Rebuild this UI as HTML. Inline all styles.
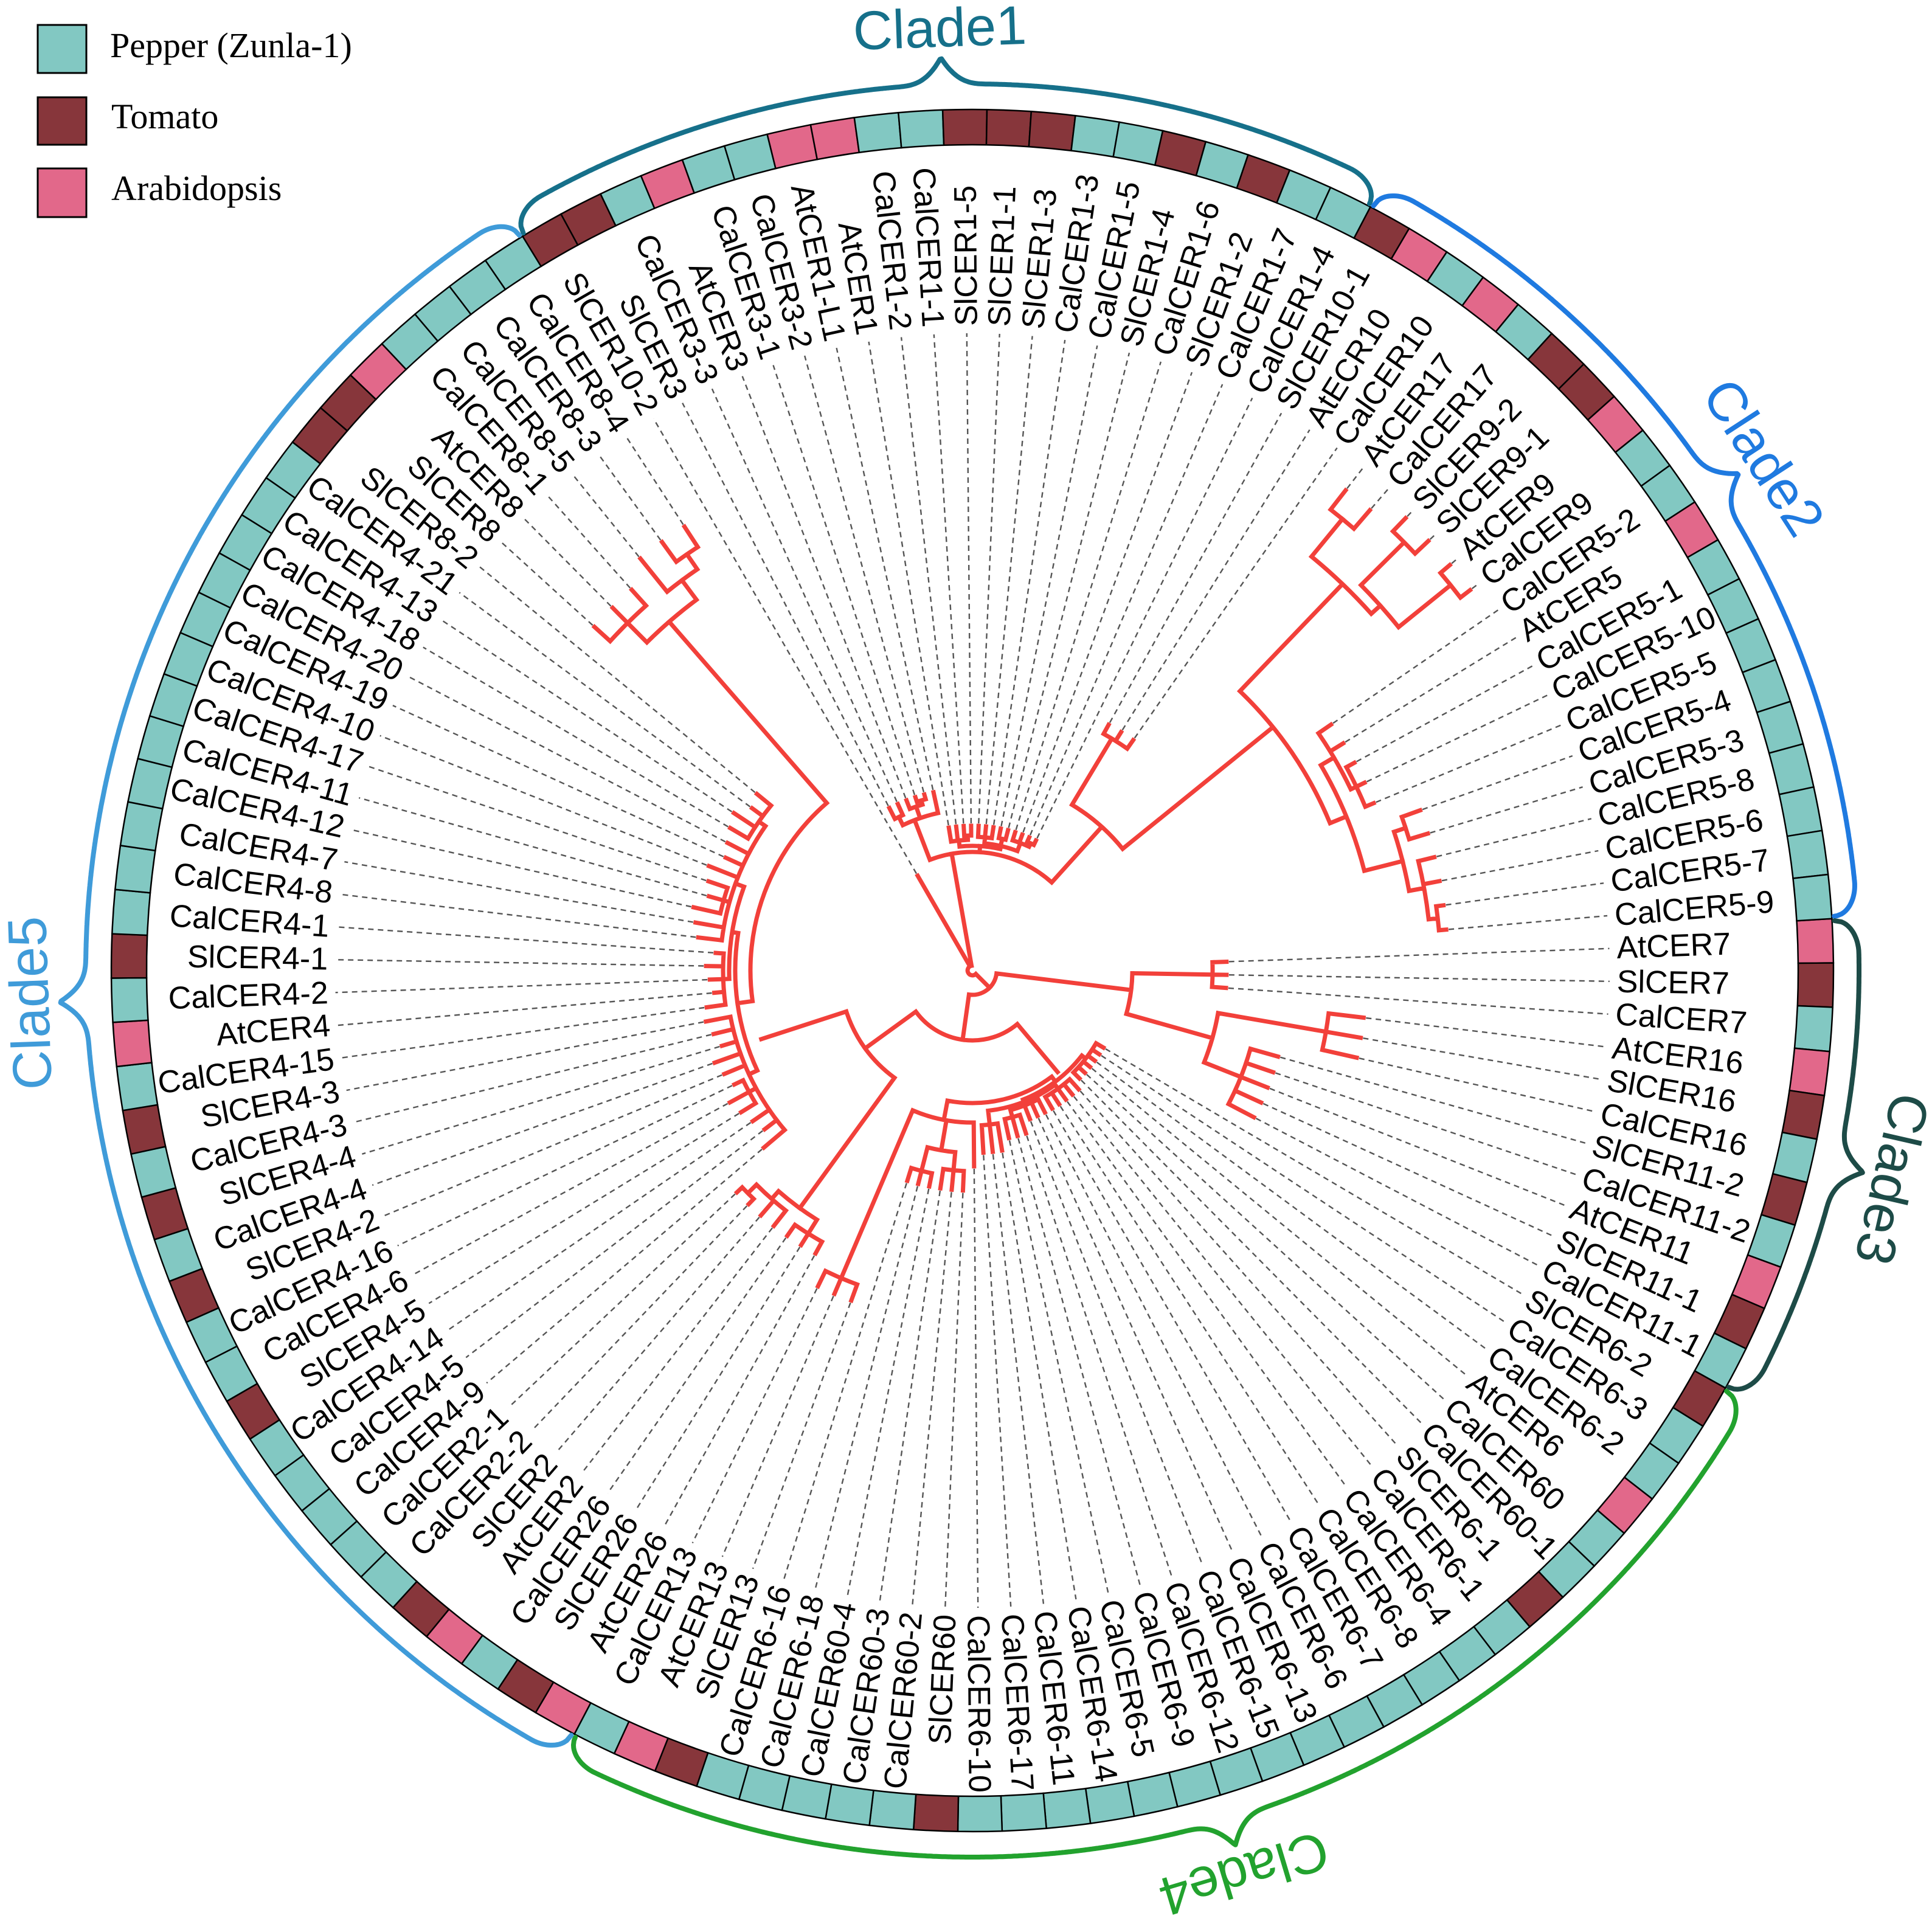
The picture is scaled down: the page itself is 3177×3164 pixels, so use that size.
<!DOCTYPE html>
<html><head><meta charset="utf-8">
<style>
html,body{margin:0;padding:0;background:#fff;}
svg{display:block;}
.lbl{font-family:"Liberation Sans",Arial,sans-serif;font-size:52px;fill:#000;}
.clade{font-family:"Liberation Sans",Arial,sans-serif;font-size:90px;}
.leg{font-family:"Liberation Serif","Times New Roman",serif;font-size:58px;fill:#000;}
</style></head>
<body>
<svg id="s" xmlns="http://www.w3.org/2000/svg" width="3177" height="3164" viewBox="0 0 3177 3164">
<rect x="0" y="0" width="3177" height="3164" fill="#fff"/>
<rect x="62" y="41" width="80" height="79" fill="#82c8c2" stroke="#000" stroke-width="3"/>
<rect x="62" y="160" width="80" height="78" fill="#87363b" stroke="#000" stroke-width="3"/>
<rect x="62" y="277" width="80" height="80" fill="#e2688a" stroke="#000" stroke-width="3"/>
<text class="leg" x="181" y="94">Pepper (Zunla-1)</text>
<text class="leg" x="183" y="211">Tomato</text>
<text class="leg" x="183" y="329">Arabidopsis</text>
<g id="ring"></g>
<g id="dash"></g>
<g id="tree"></g>
<g id="labels"></g>
<g id="br"></g>
</svg>
<script>
(function(){
var names=["AtCER7","SlCER7","CalCER7","AtCER16","SlCER16","CalCER16","SlCER11-2","CalCER11-2","AtCER11","SlCER11-1","CalCER11-1",
"SlCER6-2","CalCER6-3","CalCER6-2","AtCER6","CalCER60","CalCER60-1","SlCER6-1","CalCER6-1","CalCER6-4","CalCER6-8","CalCER6-7","CalCER6-6","CalCER6-13","CalCER6-15","CalCER6-12","CalCER6-9","CalCER6-5","CalCER6-14","CalCER6-11","CalCER6-17","CalCER6-10","SlCER60","CalCER60-2","CalCER60-3","CalCER60-4","CalCER6-18","CalCER6-16","SlCER13","AtCER13","CalCER13",
"AtCER26","SlCER26","CalCER26","AtCER2","SlCER2","CalCER2-2","CalCER2-1","CalCER4-9","CalCER4-5","CalCER4-14","SlCER4-5","CalCER4-6","CalCER4-16","SlCER4-2","CalCER4-4","SlCER4-4","CalCER4-3","SlCER4-3","CalCER4-15","AtCER4","CalCER4-2","SlCER4-1","CalCER4-1","CalCER4-8","CalCER4-7","CalCER4-12","CalCER4-11","CalCER4-17","CalCER4-10","CalCER4-19","CalCER4-20","CalCER4-18","CalCER4-13","CalCER4-21","SlCER8-2","SlCER8","AtCER8","CalCER8-1","CalCER8-5","CalCER8-3","CalCER8-4",
"SlCER10-2","SlCER3","CalCER3-3","AtCER3","CalCER3-1","CalCER3-2","AtCER1-L1","AtCER1","CalCER1-2","CalCER1-1","SlCER1-5","SlCER1-1","SlCER1-3","CalCER1-3","CalCER1-5","SlCER1-4","CalCER1-6","SlCER1-2","CalCER1-7","CalCER1-4",
"SlCER10-1","AtECR10","CalCER10","AtCER17","CalCER17","SlCER9-2","SlCER9-1","AtCER9","CalCER9","CalCER5-2","AtCER5","CalCER5-1","CalCER5-10","CalCER5-5","CalCER5-4","CalCER5-3","CalCER5-8","CalCER5-6","CalCER5-7","CalCER5-9"];
var N=names.length, cx=1599, cy=1596, step=360/N, base=-1.98;
function ang(i){return base+i*step;}
function P(r,a){var t=a*Math.PI/180;return [cx+r*Math.cos(t),cy+r*Math.sin(t)];}
function f(v){return v.toFixed(1);}
function col(n){return n.indexOf("Cal")==0?"#82c8c2":(n.indexOf("Sl")==0?"#87363b":"#e2688a");}
var h="",R1=1358,R2=1416,hs=step/2;
for(var i=0;i<N;i++){var a=ang(i),a0=a-hs,a1=a+hs;
 var p1=P(R1,a0),p2=P(R2,a0),p3=P(R2,a1),p4=P(R1,a1);
 h+='<path d="M'+f(p1[0])+' '+f(p1[1])+'L'+f(p2[0])+' '+f(p2[1])+'A'+R2+' '+R2+' 0 0 1 '+f(p3[0])+' '+f(p3[1])+'L'+f(p4[0])+' '+f(p4[1])+'A'+R1+' '+R1+' 0 0 0 '+f(p1[0])+' '+f(p1[1])+'Z" fill="'+col(names[i])+'" stroke="#000" stroke-width="2.5"/>';}
document.getElementById("ring").innerHTML=h;
var tip=[];
function setr(a,b,r,v){for(var i=a;i<=b;i++){tip[i]=r+(v?((i*37)%7-3)*v:0);}}
setr(0,2,418);setr(3,5,648);setr(6,10,522);setr(11,16,250);setr(17,24,262);setr(25,27,282);setr(28,30,300);
setr(31,31,322);setr(32,37,362);setr(38,40,578);setr(41,47,532);setr(48,58,442,4);setr(59,63,432,3);setr(64,75,458,4);
setr(76,78,840);setr(79,81,870);setr(82,82,180);setr(83,88,300);setr(89,101,238);setr(102,104,462);
setr(105,106,1000);setr(107,110,1030);setr(111,115,715);setr(116,121,782);
var C3grp={r:265,a:249,ch:[{r:280,ch:[83,84]},{r:285,ch:[85,{r:292,ch:[86,87]}]},88]};
var C1b={r:205,ch:[{r:215,ch:[89,90,{r:222,ch:[91,92]}]},{r:210,ch:[{r:220,ch:[93,94,95]},{r:222,ch:[96,97]},{r:224,ch:[98,99,{r:230,ch:[100,101]}]}]}]};
var C10={r:445,a:301,ch:[102,103,104]};
var B={r:880,ch:[{r:960,ch:[105,106]},{r:900,ch:[{r:1000,ch:[107,108]},{r:1010,ch:[109,110]}]}]};
var Cc={r:665,ch:[{r:690,ch:[111,112,{r:700,ch:[113,114,115]}]},{r:730,ch:[{r:750,ch:[116,117]},{r:755,ch:[118,119,{r:770,ch:[120,121]}]}]}]};
var A={r:636,a:321,ch:[B,Cc]};
var C2={r:318,a:312,ch:[C10,A]};
var N12={r:195,a:260,ch:[C3grp,C1b,C2]};
var C3={r:263,a:7,ch:[{r:395,ch:[0,1,2]},{r:410,ch:[{r:590,ch:[3,4,5]},{r:475,ch:[6,7,8,9,10]}]}]};
var C6={r:228,ch:[{r:236,ch:[11,12,13,14,15,16]},{r:232,ch:[{r:240,ch:[17,18,19,20,21]},{r:238,ch:[22,23,24,{r:250,ch:[25,26,27]}]},{r:255,ch:[28,29,30]}]}]};
var C60={r:250,ch:[31,{r:300,ch:[{r:330,ch:[32,33,34]},{r:340,ch:[35,36,37]}]},{r:550,ch:[38,39,40]}]};
var C4={r:218,a:50,ch:[C6,C60]};
var C26={r:483,a:126,ch:[{r:510,ch:[41,42,43]},{r:500,ch:[44,45,{r:520,ch:[46,47]}]}]};
var C8={r:760,a:229,ch:[{r:805,ch:[76,77,78]},{r:800,ch:[79,{r:830,ch:[80,81]}]}]};
var C4a={r:390,ch:[{r:405,ch:[48,49,50,{r:418,ch:[51,52,53]},54,55,56,57,58]},{r:400,ch:[{r:410,ch:[59,60,61,62,63]},{r:415,ch:[64,65,{r:425,ch:[66,67,68]},69,70,71,{r:428,ch:[72,73,74,75]}]}]}]};
var W={r:365,a:162,ch:[C4a,C8]};
var Z={r:218,a:144,ch:[C26,W]};
var Y={r:115,a:98,ch:[C4,Z]};
var X={r:40,a:45,ch:[C3,Y]};
var root={r:8,ch:[X,82,N12]};
function angOf(n){if(typeof n==="number")return ang(n);if(n.a!==undefined)return n.a;var s=0;for(var k=0;k<n.ch.length;k++)s+=angOf(n.ch[k]);n.a=s/n.ch.length;return n.a;}
function rOf(n){return typeof n==="number"?tip[n]:n.r;}
var t="";
function line(r1,r2,a){var p=P(r1,a),q=P(r2,a);t+='M'+f(p[0])+' '+f(p[1])+'L'+f(q[0])+' '+f(q[1]);}
function arc(r,a1,a2){if(a2-a1<0.05)return;var p=P(r,a1),q=P(r,a2);t+='M'+f(p[0])+' '+f(p[1])+'A'+r+' '+r+' 0 '+((a2-a1)>180?1:0)+' 1 '+f(q[0])+' '+f(q[1]);}
function draw(n){angOf(n);var mn=1e9,mx=-1e9;
 for(var k=0;k<n.ch.length;k++){var c=n.ch[k],a=angOf(c);mn=Math.min(mn,a);mx=Math.max(mx,a);line(n.r,rOf(c),a);if(typeof c!=="number")draw(c);}
 arc(n.r,mn,mx);}
draw(root);
document.getElementById("tree").innerHTML='<path d="'+t+'" fill="none" stroke="#f2403a" stroke-width="7" stroke-linecap="square" stroke-linejoin="miter"/>';
var d="";
for(var i=0;i<N;i++){var a=ang(i),p=P(tip[i]+4,a),q=P(1048,a);d+='M'+f(p[0])+' '+f(p[1])+'L'+f(q[0])+' '+f(q[1]);}
document.getElementById("dash").innerHTML='<path d="'+d+'" fill="none" stroke="#555" stroke-width="2.4" stroke-dasharray="9 7"/>';
var L="";
for(var i=0;i<N;i++){var a=ang(i);
 if(i>=32&&i<=91){L+='<text class="lbl" text-anchor="end" dominant-baseline="central" transform="rotate('+f(a)+' '+cx+' '+cy+') translate('+(cx+1060)+' '+cy+') rotate(180)">'+names[i]+'</text>';}
 else{L+='<text class="lbl" text-anchor="start" dominant-baseline="central" transform="rotate('+f(a)+' '+cx+' '+cy+') translate('+(cx+1060)+' '+cy+')">'+names[i]+'</text>';}}
document.getElementById("labels").innerHTML=L;
var clades=[["Clade1",82,101,"#16708a"],["Clade2",102,121,"#1f7ae0"],["Clade3",0,10,"#1d4b47"],["Clade4",11,40,"#22a22e"],["Clade5",41,81,"#3f9bd9"]];
var bh="";
for(var c=0;c<clades.length;c++){var cl=clades[c],a0=ang(cl[1])-hs+0.15,a1=ang(cl[2])+hs-0.15,mid=(a0+a1)/2;
 var pts=[];
 for(var a=a0;a<=a1+0.0001;a+=0.1){var r=1458;
  var e=Math.min(a-a0,a1-a);
  if(e<2.2){var u=e/2.2;r=1420+38*Math.sqrt(1-(1-u)*(1-u));}
  var dm=Math.abs(a-mid);if(dm<3){var v=1-dm/3;r+=44*v*v*v;}
  var p=P(r,a);pts.push(f(p[0])+','+f(p[1]));}
 var pe=P(1420,a1);pts.push(f(pe[0])+','+f(pe[1]));
 bh+='<polyline points="'+pts.join(' ')+'" fill="none" stroke="'+cl[3]+'" stroke-width="8" stroke-linecap="round" stroke-linejoin="round"/>';
 var lp=P(1550,mid);
 bh+='<text class="clade" fill="'+cl[3]+'" text-anchor="middle" dominant-baseline="central" transform="translate('+f(lp[0])+' '+f(lp[1])+') rotate('+f(mid+90)+')">'+cl[0]+'</text>';}
document.getElementById("br").innerHTML=bh;
})();
</script>
</body></html>
